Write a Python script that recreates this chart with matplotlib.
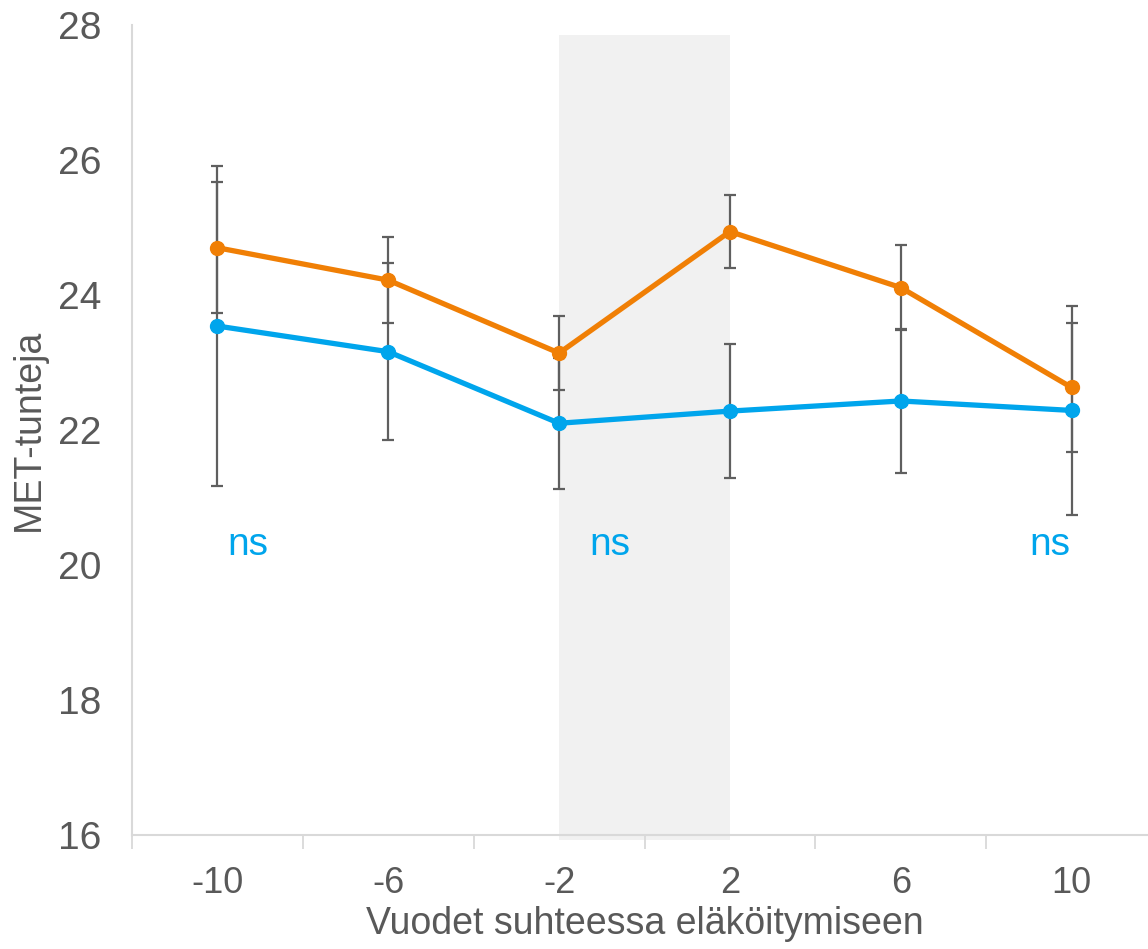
import matplotlib.pyplot as plt
from matplotlib.patches import Rectangle

# years relative to retirement
years = ['-10', '-6', '-2', '2', '6', '10']

# MET hours, two groups
orange_vals = [24.70, 24.22, 23.14, 24.94, 24.11, 22.63]
orange_err = [0.97, 0.64, 0.55, 0.54, 0.63, 0.96]
blue_vals = [23.54, 23.16, 22.10, 22.28, 22.43, 22.29]
blue_err = [2.37, 1.31, 0.97, 0.99, 1.06, 1.55]

# "ns" markers: (category index offset, y)
ns_x = [0.18, 2.30, 4.87]
ns_y = 20.30

plt.rcParams['font.family'] = ['Liberation Sans', 'DejaVu Sans']

fig = plt.figure(figsize=(11.48, 9.49), dpi=100)
ax = fig.add_axes([132/1148, 1 - 835/949, 1025/1148, 810/949])

x = list(range(len(years)))

# shaded retirement window
ax.add_patch(Rectangle((2, 15.93), 1, 27.85 - 15.93, facecolor='#f1f1f1',
                       edgecolor='none', zorder=0, clip_on=False))

ax.errorbar(x, orange_vals, yerr=orange_err, fmt='none', ecolor='#5f5f5f',
            elinewidth=1.6, capsize=4.5, capthick=1.6, zorder=2)
ax.errorbar(x, blue_vals, yerr=blue_err, fmt='none', ecolor='#5f5f5f',
            elinewidth=1.6, capsize=4.5, capthick=1.6, zorder=2)

ax.plot(x, orange_vals, '-o', color='#f07f05', lw=3.8, ms=10, zorder=3)
ax.plot(x, blue_vals, '-o', color='#00a5ec', lw=3.8, ms=10, zorder=3)

for nx in ns_x:
    ax.text(nx, ns_y, 'ns', color='#00a5ec', fontsize=28, ha='center', va='center',
            fontstretch='condensed')

ax.set_xlim(-0.5, 5.5)
ax.set_ylim(16, 28)
ax.set_yticks([16, 18, 20, 22, 24, 26, 28])
ax.set_xticks(x)
ax.set_xticklabels(years)
ax.set_xticks([i - 0.5 for i in range(len(years) + 1)], minor=True)

for s in ['top', 'right']:
    ax.spines[s].set_visible(False)
for s in ['left', 'bottom']:
    ax.spines[s].set_color('#d9d9d9')
    ax.spines[s].set_linewidth(1.5)

ax.tick_params(axis='x', which='major', length=0, pad=22, labelsize=26, labelcolor='#595959')
ax.tick_params(axis='x', which='minor', length=10, width=1.3, color='#d9d9d9')
ax.tick_params(axis='y', length=0, pad=22, labelsize=28, labelcolor='#595959')

ax.set_xlabel('Vuodet suhteessa eläköitymiseen', fontsize=27, color='#595959', labelpad=4)
ax.set_ylabel('MET-tunteja', fontsize=27, color='#595959', labelpad=8)

fig.savefig('out.png', dpi=100)
